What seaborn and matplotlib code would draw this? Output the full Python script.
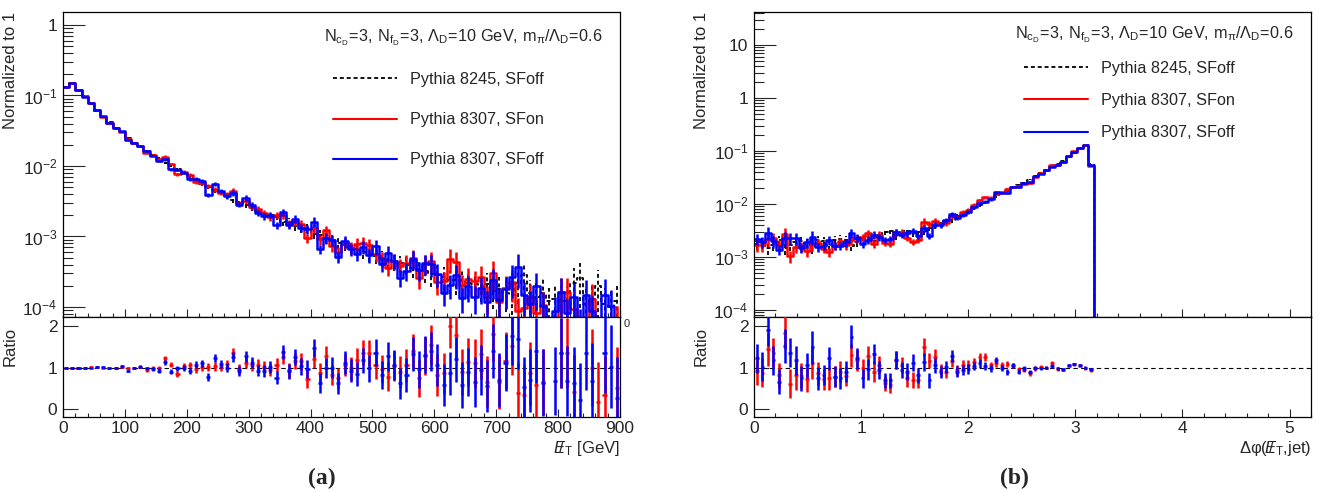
import numpy as np
import matplotlib
matplotlib.use("Agg")
import matplotlib.pyplot as plt
import seaborn as sns
from matplotlib.lines import Line2D
from matplotlib.ticker import FixedLocator, MultipleLocator, FuncFormatter, LogLocator, NullFormatter

# ---------------- data: missing E_T, 10 GeV bins, 0-900 GeV ----------------
met_edges = np.arange(0, 910, 10)
met_ref_8245 = [
    0.130, 0.150, 0.120, 0.097, 0.077, 0.061, 0.050, 0.042, 0.035, 0.030,
    0.0250, 0.0215, 0.0188, 0.0165, 0.0145, 0.0128, 0.0110, 0.0100, 0.0090, 0.0080,
    0.0071, 0.0062, 0.0056, 0.0051, 0.0045, 0.0041, 0.0037, 0.0033, 0.0031, 0.0028,
    0.0025, 0.0023, 0.0021, 0.0020, 0.0019, 0.0016, 0.0016, 0.0014, 0.0013, 0.0013,
    0.0011, 0.00105, 0.00095, 0.00088, 0.00082, 0.00076, 0.00071, 0.00066, 0.00060, 0.00056,
    0.00053, 0.00050, 0.00046, 0.00043, 0.00042, 0.00040, 0.00036, 0.00035, 0.00032, 0.00029,
    0.00028, 0.00027, 0.00024, 0.00024, 0.00023, 0.00022, 0.00021, 0.00020, 0.00021, 0.00017,
    0.00018, 0.00016, 0.00015, 0.00022, 0.00028, 0.00016, 0.00014, 0.00016, 0.00012, 0.00013,
    0.00012, 0.00012, 0.00022, 0.00026, 0.00011, 0.00013, 0.00020, 0.00011, 0.00010, 0.00012,
]
nan = np.nan
met_ratio_sfon = [
    1.00, 1.00, 0.99, 1.00, 1.01, 1.02, 1.00, 0.98, 0.99, 1.02,
    0.98, 0.99, 1.02, 0.94, 1.00, 0.99, 1.23, 1.07, 0.85, 1.03,
    1.06, 0.96, 1.02, 1.02, 1.03, 1.02, 1.08, 1.36, 0.96, 1.12,
    1.06, 1.06, 1.02, 0.94, 1.06, 1.26, 0.94, 1.16, 1.15, 0.73,
    1.20, 0.87, 1.28, 0.82, 0.74, 1.06, 0.98, 1.18, 1.36, 1.35,
    1.06, 0.96, 0.78, 1.04, 0.90, 1.06, 1.39, 0.74, 1.28, 1.55,
    0.82, 0.86, 2.00, 1.79, 0.90, 1.14, 1.10, 1.33, 0.66, 1.80,
    0.66, 1.17, 1.52, 0.40, 0.34, 0.86, 0.58, 0.66, nan, nan,
    1.35, 1.35, 0.42, nan, nan, 1.00, 0.18, 0.34, nan, 0.50,
]
met_ratio_sfoff = [
    1.00, 0.99, 0.99, 0.99, 1.00, 1.02, 1.01, 0.98, 0.99, 1.03,
    0.92, 0.99, 1.02, 0.98, 0.97, 0.93, 1.13, 0.90, 0.98, 1.00,
    0.92, 1.07, 1.10, 0.77, 1.24, 1.09, 1.00, 1.26, 0.91, 1.27,
    1.12, 0.93, 0.92, 1.02, 0.76, 1.37, 0.91, 1.26, 1.03, 0.97,
    1.47, 0.63, 1.00, 1.00, 0.62, 1.12, 0.93, 0.85, 1.18, 0.98,
    1.36, 0.82, 1.27, 1.06, 0.62, 0.82, 1.33, 0.96, 1.31, 1.39,
    1.06, 0.58, 0.86, 1.20, 0.58, 0.90, 0.66, 0.94, 0.56, 1.41,
    0.70, 1.12, 1.76, 1.68, 0.53, 0.69, 1.41, 0.64, nan, 0.68,
    1.35, 0.68, 0.62, 0.22, 1.35, 0.68, nan, 1.35, 1.02, 0.26,
]
met_ratio_err = [
    0.02, 0.02, 0.02, 0.02, 0.02, 0.02, 0.02, 0.02, 0.03, 0.03,
    0.03, 0.03, 0.04, 0.04, 0.04, 0.05, 0.06, 0.06, 0.07, 0.07,
    0.08, 0.08, 0.09, 0.09, 0.10, 0.10, 0.11, 0.12, 0.12, 0.13,
    0.13, 0.14, 0.15, 0.15, 0.16, 0.17, 0.18, 0.19, 0.20, 0.21,
    0.22, 0.23, 0.24, 0.25, 0.26, 0.27, 0.28, 0.29, 0.30, 0.32,
    0.33, 0.34, 0.35, 0.36, 0.38, 0.40, 0.42, 0.44, 0.45, 0.48,
    0.50, 0.50, 0.52, 0.55, 0.55, 0.58, 0.60, 0.60, 0.62, 0.65,
    0.65, 0.68, 0.70, 0.72, 0.72, 0.75, 0.78, 0.80, 0.80, 0.82,
    0.85, 0.85, 0.88, 0.90, 0.90, 0.92, 0.95, 0.95, 1.00, 1.00,
]

# ---------------- data: delta phi, 100 bins 0-5.2 (filled up to pi) ----------------
dphi_edges = np.round(np.linspace(0, 5.2, 101), 4)
dphi_ref_8245 = [
    0.0018, 0.0019, 0.0015, 0.0017, 0.0021, 0.0015, 0.0017, 0.0019, 0.0020, 0.0018,
    0.0016, 0.0021, 0.0020, 0.0017, 0.0021, 0.0022, 0.0021, 0.0016, 0.0019, 0.0024,
    0.0022, 0.0020, 0.0025, 0.0030, 0.0031, 0.0025, 0.0028, 0.0031, 0.0028, 0.0030,
    0.0031, 0.0036, 0.0038, 0.0044, 0.0048, 0.0050, 0.0060, 0.0066, 0.0074, 0.0084,
    0.0094, 0.0107, 0.0125, 0.0140, 0.0160, 0.0180, 0.0200, 0.0230, 0.0255, 0.0290,
    0.0335, 0.0380, 0.0430, 0.0490, 0.0560, 0.0650, 0.0760, 0.0900, 0.1080, 0.1300,
    0.0560,
]
dphi_ratio_sfon = [
    0.92, 0.88, 1.44, 1.36, 0.82, 1.84, 0.61, 0.82, 0.80, 0.72,
    1.12, 0.86, 0.72, 0.74, 0.78, 0.90, 0.80, 1.30, 1.18, 0.98,
    1.28, 0.90, 1.06, 0.62, 0.58, 1.18, 1.06, 0.74, 0.70, 0.70,
    1.50, 1.17, 1.26, 0.94, 0.90, 1.17, 0.94, 1.06, 1.06, 1.14,
    1.26, 1.26, 1.06, 1.10, 1.06, 1.08, 1.04, 0.96, 0.94, 0.86,
    0.98, 1.02, 1.00, 1.12, 0.96, 0.94, 1.04, 1.09, 1.04, 0.98,
    0.94,
]
dphi_ratio_sfoff = [
    1.22, 1.02, 1.91, 1.18, 0.66, 1.52, 1.36, 1.18, 0.74, 1.06,
    1.49, 0.74, 0.82, 1.22, 0.78, 0.74, 0.90, 1.75, 1.22, 0.74,
    0.96, 1.33, 0.94, 0.70, 0.70, 1.18, 0.94, 0.90, 1.12, 0.82,
    1.14, 0.70, 1.06, 0.90, 1.02, 1.28, 0.90, 0.94, 0.96, 1.04,
    1.10, 1.04, 0.98, 1.18, 1.00, 0.90, 1.06, 0.90, 0.98, 0.90,
    1.00, 0.98, 1.00, 1.04, 0.98, 0.96, 1.06, 1.08, 1.06, 1.00,
    0.96,
]
dphi_ratio_err = [
    0.35, 0.35, 0.40, 0.35, 0.30, 0.40, 0.35, 0.35, 0.30, 0.30,
    0.40, 0.28, 0.25, 0.28, 0.25, 0.25, 0.25, 0.28, 0.25, 0.22,
    0.25, 0.25, 0.22, 0.18, 0.18, 0.22, 0.20, 0.20, 0.20, 0.18,
    0.22, 0.18, 0.18, 0.15, 0.15, 0.15, 0.13, 0.12, 0.12, 0.10,
    0.10, 0.09, 0.08, 0.08, 0.07, 0.07, 0.06, 0.06, 0.05, 0.05,
    0.05, 0.04, 0.04, 0.04, 0.04, 0.03, 0.03, 0.03, 0.03, 0.03,
    0.04,
]

series_labels = ["Pythia 8245, SFoff", "Pythia 8307, SFon", "Pythia 8307, SFoff"]
header = r"$\mathrm{N_{c_D}\!=\!3,\, N_{f_D}\!=\!3,\, \Lambda_D\!=\!10\ GeV,\, m_\pi/\Lambda_D\!=\!0.6}$"

RED = "#ff0000"
BLUE = "#0000ff"
DASH = (0, (2.2, 1.6))
LBL = 12.5    # tick label size
TXT = 11.7    # legend / header size

sns.set_style("ticks")
plt.rcParams["font.family"] = ["Liberation Sans", "DejaVu Sans"]
plt.rcParams["mathtext.fontset"] = "custom"
plt.rcParams["mathtext.rm"] = "Liberation Sans"
plt.rcParams["mathtext.it"] = "Liberation Sans:italic"
plt.rcParams["mathtext.bf"] = "Liberation Sans:bold"
plt.rcParams["axes.linewidth"] = 0.9
plt.rcParams["axes.edgecolor"] = "black"


def log_label(v, pos):
    if np.isclose(v, 1):
        return "1"
    if np.isclose(v, 10):
        return "10"
    return r"$10^{%d}$" % round(np.log10(v))


def pad(arr, n):
    out = np.full(n, np.nan)
    out[:len(arr)] = arr
    return out


def draw_hist(ax, edges, vals, errs, color, ls, lw):
    centers = 0.5 * (edges[:-1] + edges[1:])
    shown = np.nan_to_num(vals, nan=1e-9)
    sns.histplot(x=centers, weights=shown, bins=list(edges), element="step", fill=False,
                 color=color, linestyle=ls, linewidth=lw, ax=ax)
    ok = np.isfinite(vals)
    eb = ax.errorbar(centers[ok], vals[ok], yerr=errs[ok], fmt="none",
                     ecolor=color, elinewidth=lw)
    for lc in eb.lines[2]:
        lc.set_linestyle(ls)


def draw_panel(fig, x0, edges, ref, r_on, r_off, r_err, ylim, yticks, xmajor, xminor,
               xlabel, head_y, leg_y, leg_spacing):
    n = len(edges) - 1
    ref = pad(ref, n)
    r_on = pad(r_on, n)
    r_off = pad(r_off, n)
    r_err = pad(r_err, n)
    centers = 0.5 * (edges[:-1] + edges[1:])
    width = edges[1] - edges[0]

    ax = fig.add_axes([x0, 0.35569, 0.42101, 0.61992])
    rx = fig.add_axes([x0, 0.15244, 0.42101, 0.20325])

    # upper pad: normalised distributions
    draw_hist(ax, edges, ref, ref * r_err * 0.7, "black", DASH, 1.3)
    draw_hist(ax, edges, ref * r_on, ref * r_on * r_err * 0.7, RED, "-", 1.8)
    draw_hist(ax, edges, ref * r_off, ref * r_off * r_err * 0.7, BLUE, "-", 1.8)
    ax.set_yscale("log")
    ax.set_ylim(*ylim)
    ax.set_xlim(edges[0], edges[-1])
    ax.yaxis.set_major_locator(FixedLocator(yticks))
    ax.yaxis.set_major_formatter(FuncFormatter(log_label))
    ax.yaxis.set_minor_locator(LogLocator(base=10, subs=np.arange(2, 10), numticks=20))
    ax.yaxis.set_minor_formatter(NullFormatter())
    ax.xaxis.set_major_locator(MultipleLocator(xmajor))
    ax.xaxis.set_minor_locator(MultipleLocator(xminor))
    ax.tick_params(axis="x", which="both", direction="in", labelbottom=False, top=False)
    ax.tick_params(axis="x", which="major", length=5.8, width=0.8)
    ax.tick_params(axis="x", which="minor", length=2.9, width=0.8)
    ax.tick_params(axis="y", which="both", direction="in", right=False, labelsize=LBL, pad=4)
    ax.tick_params(axis="y", which="major", length=15.6, width=0.8)
    ax.tick_params(axis="y", which="minor", length=7.2, width=0.8)
    ax.set_xlabel("")
    ax.set_ylabel("Normalized to 1", loc="top", fontsize=12)
    ax.yaxis.set_label_coords(-0.081, 1.0)

    ax.text(0.9695, head_y, header, transform=ax.transAxes, ha="right", va="center", fontsize=TXT)
    handles = [Line2D([], [], color="black", ls=DASH, lw=1.3),
               Line2D([], [], color=RED, lw=1.5),
               Line2D([], [], color=BLUE, lw=1.5)]
    ax.legend(handles, series_labels, loc="upper left", bbox_to_anchor=(0.485, leg_y),
              frameon=False, handlelength=3.95, handletextpad=0.75, labelspacing=leg_spacing,
              borderaxespad=0, borderpad=0, fontsize=TXT)

    # lower pad: ratio to Pythia 8245
    rx.axhline(1, color="black", lw=0.8, ls=(0, (4, 3)), zorder=1)
    xe = 0.33 * width
    for r, c in [(r_on, RED), (r_off, BLUE)]:
        ok = np.isfinite(r)
        rx.errorbar(centers[ok], r[ok], yerr=r_err[ok], xerr=xe, fmt="none",
                    ecolor=c, elinewidth=1.8, zorder=3)
    rx.set_xlim(edges[0], edges[-1])
    rx.set_ylim(-0.19, 2.22)
    rx.yaxis.set_major_locator(FixedLocator([0, 1, 2]))
    rx.xaxis.set_major_locator(MultipleLocator(xmajor))
    rx.xaxis.set_minor_locator(MultipleLocator(xminor))
    rx.tick_params(axis="x", which="both", direction="in", top=False, labelsize=LBL, pad=3)
    rx.tick_params(axis="x", which="major", length=5.5, width=0.8)
    rx.tick_params(axis="x", which="minor", length=2.9, width=0.8)
    rx.tick_params(axis="y", which="major", direction="in", right=False, length=10.8,
                   width=0.8, labelsize=LBL, pad=4)
    rx.set_ylabel("Ratio", loc="top", fontsize=12)
    rx.yaxis.set_label_coords(-0.081, 0.9)
    rx.set_xlabel(xlabel, loc="right", fontsize=12)
    rx.xaxis.set_label_coords(1.0, -0.22)
    return ax, rx


fig = plt.figure(figsize=(13.23, 4.92), dpi=100)

draw_panel(fig, 0.04762, met_edges, met_ref_8245, met_ratio_sfon, met_ratio_sfoff, met_ratio_err,
           ylim=(7.2e-5, 1.53), yticks=[1e-4, 1e-3, 1e-2, 1e-1, 1],
           xmajor=100, xminor=20,
           xlabel=r"$/\!\!\!\!E_\mathrm{T}$ [GeV]",
           head_y=0.915, leg_y=0.803, leg_spacing=1.55)

draw_panel(fig, 0.56992, dphi_edges, dphi_ref_8245, dphi_ratio_sfon, dphi_ratio_sfoff, dphi_ratio_err,
           ylim=(7.4e-5, 42), yticks=[1e-4, 1e-3, 1e-2, 1e-1, 1, 10],
           xmajor=1, xminor=0.2,
           xlabel="Δφ(" + r"$\,/\!\!\!\!E_\mathrm{T}$" + ",jet)",
           head_y=0.925, leg_y=0.839, leg_spacing=1.05)

# leftover of the hidden upper-pad "900" label
fig.text(0.4715, 1 - 324 / 492, "0", fontsize=8, ha="left", va="center")

fig.text(0.2434, 0.0285, "(a)", fontsize=17, fontweight="bold", ha="center", va="center",
         family=["Liberation Serif", "DejaVu Serif"])
fig.text(0.767, 0.0285, "(b)", fontsize=17, fontweight="bold", ha="center", va="center",
         family=["Liberation Serif", "DejaVu Serif"])

fig.savefig("out.png", dpi=100)
